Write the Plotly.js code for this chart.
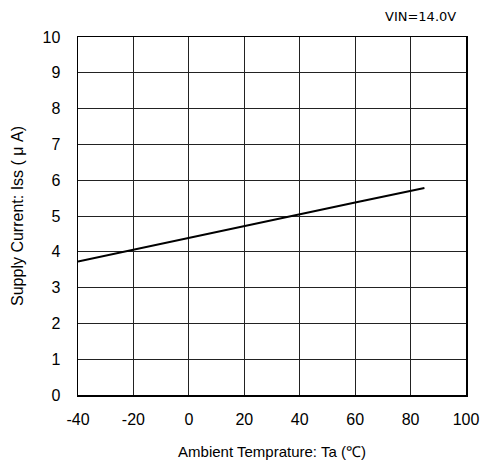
<!DOCTYPE html>
<html>
<head>
<meta charset="utf-8">
<script src="https://cdn.plot.ly/plotly-3.0.1.min.js"></script>
<style>html,body{margin:0;padding:0;background:#fff;}#chart{width:484px;height:468px;}</style>
</head>
<body>
<div id="chart"></div>
<script>
var temperature = [-40, -20, 0, 20, 40, 60, 85];
var supplyCurrent = [3.73, 4.06, 4.40, 4.72, 5.05, 5.38, 5.78];
var xTicks = [-40, -20, 0, 20, 40, 60, 80, 100];
var yTicks = [0, 1, 2, 3, 4, 5, 6, 7, 8, 9, 10];

var tickFont = {family: 'Liberation Sans, Arial, sans-serif', size: 16, color: '#000'};
var xTitleFont = {family: 'Liberation Sans, Arial, sans-serif', size: 15, color: '#000'};
var yTitleFont = {family: 'Liberation Sans, Arial, sans-serif', size: 16, color: '#000'};

var trace = {
  x: temperature,
  y: supplyCurrent,
  mode: 'lines',
  line: {color: '#000', width: 2},
  hoverinfo: 'skip'
};

var layout = {
  width: 484,
  height: 468,
  margin: {l: 78, r: 18, t: 37, b: 73},
  paper_bgcolor: '#fff',
  plot_bgcolor: '#fff',
  font: tickFont,
  showlegend: false,
  xaxis: {
    range: [-40, 100],
    tickvals: xTicks,
    ticktext: xTicks.map(String),
    showgrid: true,
    gridcolor: '#222',
    gridwidth: 1,
    zeroline: false,
    showline: true,
    linecolor: '#000',
    linewidth: 1.5,
    mirror: true,
    ticks: '',
    ticklabelstandoff: 9,
    tickfont: tickFont,
    title: {text: 'Ambient Temprature: Ta (℃)', font: xTitleFont, standoff: 20}
  },
  yaxis: {
    range: [0, 10],
    tickvals: yTicks,
    ticktext: yTicks.map(String),
    showgrid: true,
    gridcolor: '#222',
    gridwidth: 1,
    zeroline: false,
    showline: true,
    linecolor: '#000',
    linewidth: 1.5,
    mirror: true,
    ticks: '',
    ticklabelstandoff: 13,
    tickfont: tickFont,
    title: {text: 'Supply Current: Iss ( μ A)', font: yTitleFont, standoff: 15}
  },
  annotations: [{
    xref: 'paper', yref: 'paper',
    x: 0.979, y: 1, xanchor: 'right', yanchor: 'bottom', yshift: 11,
    text: 'VIN=14.0V',
    showarrow: false,
    font: {family: 'DejaVu Sans, sans-serif', size: 13, color: '#000'}
  }]
};

Plotly.newPlot('chart', [trace], layout, {displayModeBar: false, staticPlot: true});
</script>
</body>
</html>
